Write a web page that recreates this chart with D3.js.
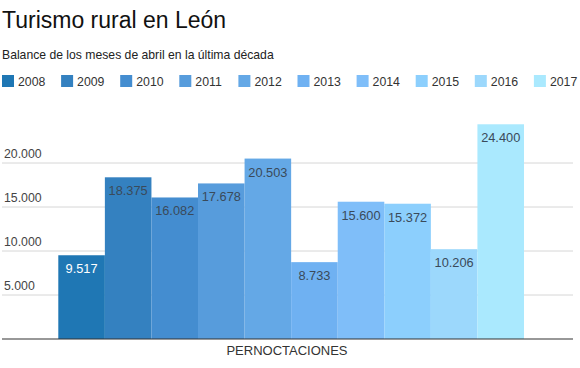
<!DOCTYPE html>
<html>
<head>
<meta charset="utf-8">
<script src="https://cdn.jsdelivr.net/npm/d3@7"></script>
<style>
  body { margin: 0; background: #fff; }
  svg { font-family: Arial, "Liberation Sans", sans-serif; }
</style>
</head>
<body>
<div id="chart"></div>
<script>
// Data
const years = ["2008", "2009", "2010", "2011", "2012", "2013", "2014", "2015", "2016", "2017"];
const values = [9517, 18375, 16082, 17678, 20503, 8733, 15600, 15372, 10206, 24400];
const colors = ["#1f77b4", "#3481c0", "#448dd0", "#579cdc", "#64a8e6", "#6fb1f2", "#7fbef9", "#8ccffd", "#9cd8fc", "#aae9fe"];
const yTicks = [5000, 10000, 15000, 20000];
const category = "PERNOCTACIONES";

const width = 580;
const height = 368;
const plot = { left: 2, right: 573, top: 100, bottom: 339 };

const svg = d3.select("#chart").append("svg")
    .attr("width", width)
    .attr("height", height);

const fmt = v => d3.format(",")(v).replace(/,/g, ".");

// Title and subtitle
svg.append("text")
    .attr("x", 2).attr("y", 28)
    .style("font-size", "23px")
    .attr("fill", "#111")
    .text("Turismo rural en León");

svg.append("text")
    .attr("x", 2).attr("y", 59)
    .style("font-size", "12.2px")
    .attr("fill", "#222")
    .text("Balance de los meses de abril en la última década");

// Legend
const legend = svg.append("g").selectAll("g")
    .data(years)
    .enter().append("g")
    .attr("transform", (d, i) => `translate(${2 + i * 59.1},75)`);

legend.append("rect")
    .attr("width", 12).attr("height", 12)
    .attr("fill", (d, i) => colors[i]);

legend.append("text")
    .attr("x", 16).attr("y", 11)
    .style("font-size", "12.3px")
    .attr("fill", "#333")
    .text(d => d);

// Scales
const y = d3.scaleLinear().domain([0, 20000]).range([plot.bottom, 163]);
const x = d3.scaleBand().domain(years).range([58.3, 524]).padding(0);

// Gridlines and tick labels
const grid = svg.append("g").selectAll("g")
    .data(yTicks)
    .enter().append("g");

grid.append("line")
    .attr("x1", plot.left).attr("x2", plot.right)
    .attr("y1", d => y(d)).attr("y2", d => y(d))
    .attr("stroke", "#d6d6d6");

grid.append("text")
    .attr("x", 4).attr("y", d => y(d) - 5)
    .style("font-size", "12.3px")
    .attr("fill", "#444")
    .text(d => fmt(d));

// Bars
svg.append("g").selectAll("rect")
    .data(values)
    .enter().append("rect")
    .attr("x", (d, i) => x(years[i]))
    .attr("y", d => y(d))
    .attr("width", x.bandwidth())
    .attr("height", d => y(0) - y(d))
    .attr("fill", (d, i) => colors[i]);

// Value labels
svg.append("g").selectAll("text")
    .data(values)
    .enter().append("text")
    .attr("x", (d, i) => x(years[i]) + x.bandwidth() / 2)
    .attr("y", d => y(d) + 18)
    .attr("text-anchor", "middle")
    .style("font-size", "12.8px")
    .attr("fill", (d, i) => i === 0 ? "#fff" : "#3a4a5a")
    .text(d => fmt(d));

// Baseline
svg.append("line")
    .attr("x1", plot.left).attr("x2", plot.right)
    .attr("y1", y(0)).attr("y2", y(0))
    .attr("stroke", "#333")
    .attr("stroke-width", 1.2);

// Category label
svg.append("text")
    .attr("x", 287).attr("y", 355)
    .attr("text-anchor", "middle")
    .style("font-size", "13px")
    .attr("fill", "#333")
    .text(category);
</script>
</body>
</html>
